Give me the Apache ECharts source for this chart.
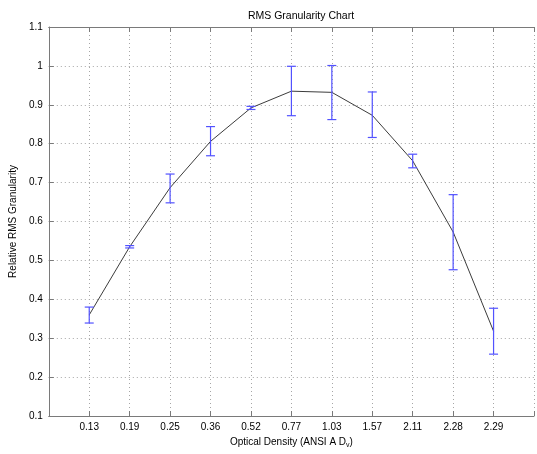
<!DOCTYPE html>
<html>
<head>
<meta charset="utf-8">
<script src="https://cdn.jsdelivr.net/npm/echarts@6/dist/echarts.min.js"></script>
<style>html,body{margin:0;padding:0;background:#fff;}#c{width:537px;height:454px;}</style>
</head>
<body>
<div id="c"></div>
<script>
var densities = ['0.13','0.19','0.25','0.36','0.52','0.77','1.03','1.57','2.11','2.28','2.29'];
var granularity = [0.360, 0.535, 0.687, 0.806, 0.892, 0.935, 0.932, 0.873, 0.756, 0.573, 0.318];
var errLower = [0.339, 0.532, 0.648, 0.769, 0.888, 0.872, 0.862, 0.816, 0.738, 0.476, 0.259];
var errUpper = [0.380, 0.538, 0.722, 0.844, 0.896, 0.999, 1.001, 0.933, 0.773, 0.669, 0.377];

var FONT = 'Liberation Sans, Arial, sans-serif';
var lineData = granularity.map(function (v, i) { return [i + 1, v]; });
var errData = errLower.map(function (lo, i) { return [i + 1, lo, errUpper[i]]; });

var chart = echarts.init(document.getElementById('c'), null, {renderer: 'canvas'});
var gridStyle = {show: true, lineStyle: {color: '#a6a6a6', type: [1, 3], width: 1}};
chart.setOption({
  animation: false,
  backgroundColor: '#ffffff',
  title: {
    text: 'RMS Granularity Chart', left: 296, top: 6, textAlign: 'center',
    textStyle: {fontFamily: FONT, fontSize: 10.5, fontWeight: 'normal', color: '#000'}
  },
  grid: {left: 46, top: 27, width: 500, height: 396},
  xAxis: [{
    type: 'value', min: 0, max: 12, interval: 1,
    axisLine: {show: true, lineStyle: {color: '#7a7a7a', width: 1}},
    axisTick: {show: true, inside: true, length: 5, lineStyle: {color: '#7a7a7a'}},
    axisLabel: {
      fontFamily: FONT, fontSize: 10, color: '#000', margin: 6,
      formatter: function (v) { return (v >= 1 && v <= densities.length) ? densities[v - 1] : ''; }
    },
    splitLine: gridStyle,
    name: 'Optical Density (ANSI A D{sub|v})', nameLocation: 'middle', nameGap: 20,
    nameTextStyle: {fontFamily: FONT, fontSize: 10, color: '#000',
      rich: {sub: {fontFamily: FONT, fontSize: 7, color: '#000', verticalAlign: 'bottom', padding: [6, 0, 0, 0]}}}
  }, {
    type: 'value', position: 'top', min: 0, max: 12, interval: 1,
    axisLine: {show: true, onZero: false, lineStyle: {color: '#7a7a7a', width: 1}},
    axisTick: {show: true, inside: true, length: 5, lineStyle: {color: '#7a7a7a'}},
    axisLabel: {show: false}, splitLine: {show: false}
  }],
  yAxis: [{
    type: 'value', min: 0.1, max: 1.1, interval: 0.1,
    axisLine: {show: true, onZero: false, lineStyle: {color: '#7a7a7a', width: 1}},
    axisTick: {show: true, inside: true, length: 5, lineStyle: {color: '#7a7a7a'}},
    axisLabel: {
      fontFamily: FONT, fontSize: 10, color: '#000', margin: 6,
      formatter: function (v) { return String(Math.round(v * 10) / 10); }
    },
    splitLine: gridStyle,
    name: 'Relative RMS Granularity', nameLocation: 'middle', nameGap: 29,
    nameTextStyle: {fontFamily: FONT, fontSize: 10, color: '#000'}
  }],
  series: [{
    type: 'line', data: lineData, showSymbol: false, symbol: 'none',
    lineStyle: {color: '#3c3c3c', width: 1}, z: 2
  }, {
    type: 'custom', data: errData, z: 3,
    renderItem: function (params, api) {
      var x = api.value(0);
      var lo = api.coord([x, api.value(1)]);
      var hi = api.coord([x, api.value(2)]);
      var hw = 4.5;
      var st = {stroke: '#5252ff', lineWidth: 1.2, fill: null};
      return {type: 'group', children: [
        {type: 'line', shape: {x1: lo[0], y1: lo[1], x2: hi[0], y2: hi[1]}, style: st},
        {type: 'line', shape: {x1: lo[0] - hw, y1: lo[1], x2: lo[0] + hw, y2: lo[1]}, style: st},
        {type: 'line', shape: {x1: hi[0] - hw, y1: hi[1], x2: hi[0] + hw, y2: hi[1]}, style: st}
      ]};
    }
  }]
});
</script>
</body>
</html>
